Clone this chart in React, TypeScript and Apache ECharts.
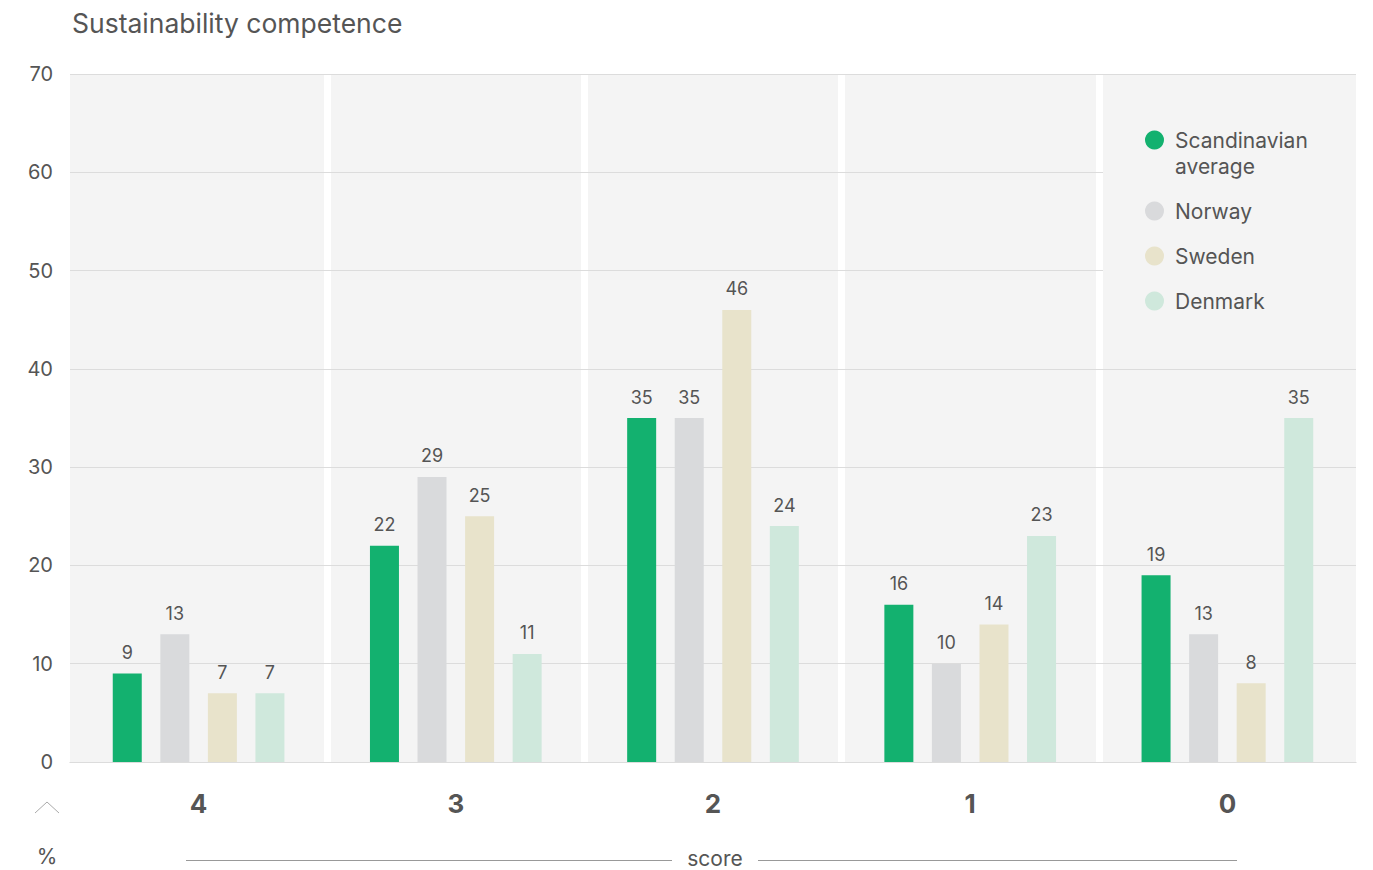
import React, { useEffect, useRef } from "react";
import * as echarts from "echarts";

const categories = ["4", "3", "2", "1", "0"];
const scandinavian = [9, 22, 35, 16, 19];
const norway = [13, 29, 35, 10, 13];
const sweden = [7, 25, 46, 14, 8];
const denmark = [7, 11, 24, 23, 35];
const seriesNames = ["Scandinavian average", "Norway", "Sweden", "Denmark"];
const colors = ["#13b16f", "#d9dadc", "#e8e3cb", "#cfe8dc"];

const FONT = "Inter, 'Noto Sans', sans-serif";
const TXT = "#555";

export default function App() {
  const ref = useRef<HTMLDivElement>(null);
  useEffect(() => {
    if (!ref.current) return;
    const chart = echarts.init(ref.current, undefined, { renderer: "svg" });
    const values = [scandinavian, norway, sweden, denmark];
    const series = seriesNames.map((name, i) => ({
      name,
      type: "bar",
      data: values[i],
      barWidth: 29,
      barGap: "64%",
      itemStyle: { color: colors[i] },
      label: {
        show: true,
        position: "top",
        distance: 12,
        color: TXT,
        fontSize: 18,
        fontFamily: FONT,
      },
    }));
    chart.setOption({
      animation: false,
      textStyle: { fontFamily: FONT },
      title: {
        text: "Sustainability competence",
        left: 67,
        top: 4,
        textStyle: { fontSize: 26.5, fontWeight: "normal", color: TXT, fontFamily: FONT },
      },
      grid: { left: 70, right: 17, top: 74, bottom: 108 },
      legend: {
        orient: "vertical",
        left: 1140,
        top: 96,
        icon: "circle",
        itemWidth: 19,
        itemHeight: 19,
        itemGap: 19,
        formatter: (name: string) =>
          name === seriesNames[0]
            ? "{e| }\n{a|Scandinavian}\n{a|average}"
            : "{a|" + name + "}",
        textStyle: {
          color: TXT,
          fontFamily: FONT,
          fontSize: 21,
          lineHeight: 26,
          rich: {
            a: { fontSize: 21, color: TXT, fontFamily: FONT, lineHeight: 26, padding: [0, 0, 0, 6] },
            e: { fontSize: 21, lineHeight: 26 },
          },
        },
      },
      xAxis: {
        type: "category",
        data: categories,
        z: 0,
        axisLine: { show: true, lineStyle: { color: "#d0d0d0", width: 1 } },
        axisTick: { show: false },
        axisLabel: { fontSize: 26, fontWeight: "bold", color: TXT, margin: 28, fontFamily: FONT },
        splitArea: { show: true, areaStyle: { color: ["#f4f4f4"] } },
        splitLine: {
          show: true,
          showMinLine: false,
          showMaxLine: false,
          lineStyle: { color: "#ffffff", width: 7 },
        },
      },
      yAxis: {
        type: "value",
        min: 0,
        max: 70,
        interval: 10,
        z: 1,
        axisLine: { show: false },
        axisTick: { show: false },
        axisLabel: { fontSize: 20, color: TXT, margin: 17, fontFamily: FONT },
        splitLine: { show: true, lineStyle: { color: "#dcdcdc", width: 1 } },
      },
      graphic: [
        {
          type: "rect",
          z: 3,
          shape: { x: 1103, y: 98, width: 253, height: 250 },
          style: { fill: "#f4f4f4" },
          silent: true,
        },
        {
          type: "polyline",
          shape: { points: [[35, 813], [47, 802], [59, 813]] },
          style: { stroke: "#aaaaaa", lineWidth: 1, fill: "none" },
        },
        {
          type: "text",
          x: 47,
          y: 856,
          style: { text: "%", fontSize: 21, fill: TXT, fontFamily: FONT, align: "center", verticalAlign: "middle" },
        },
        {
          type: "text",
          x: 715,
          y: 858,
          style: { text: "score", fontSize: 21, fill: TXT, fontFamily: FONT, align: "center", verticalAlign: "middle" },
        },
        {
          type: "line",
          shape: { x1: 186, y1: 860.5, x2: 672, y2: 860.5 },
          style: { stroke: "#999999", lineWidth: 1 },
        },
        {
          type: "line",
          shape: { x1: 758, y1: 860.5, x2: 1237, y2: 860.5 },
          style: { stroke: "#999999", lineWidth: 1 },
        },
      ],
      series,
    });
    return () => chart.dispose();
  }, []);
  return (
    <div
      ref={ref}
      style={{ position: "fixed", left: 0, top: 0, width: 1373, height: 870, background: "#fff" }}
    />
  );
}
